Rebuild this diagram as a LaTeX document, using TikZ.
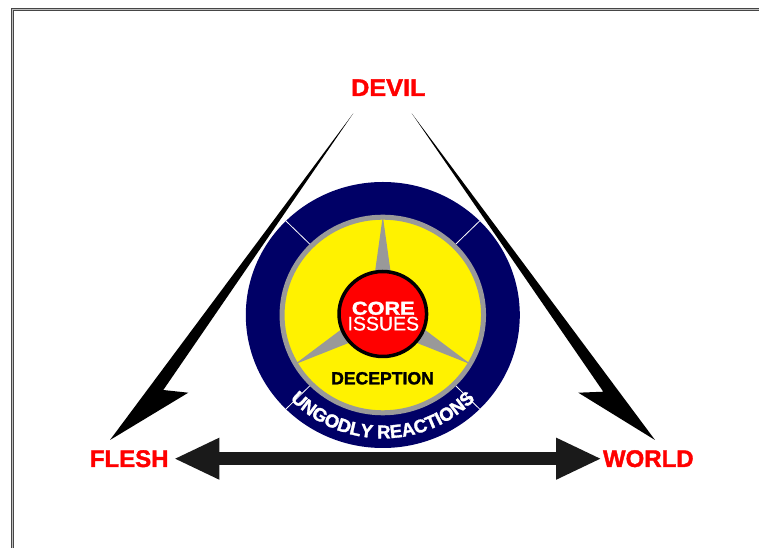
\documentclass[tikz,border=0pt]{standalone}
\usepackage{fontspec}
\setmainfont{Liberation Sans}
\newfontfamily\heavyfont[FakeBold=1.6]{Liberation Sans Bold}
\newfontfamily\midfont[FakeBold=0.8]{Liberation Sans}
\usetikzlibrary{arrows.meta,decorations.text}
\definecolor{navy}{RGB}{0,0,102}
\definecolor{ringgray}{RGB}{153,153,153}
\definecolor{darkarrow}{RGB}{26,26,26}

\begin{document}
\begin{tikzpicture}[x=1pt,y=1pt,
  corner/.style={text=red,font=\heavyfont\fontsize{24}{24}\selectfont,inner sep=2pt},
  bolt/.style={fill=black},
  spike/.style={fill=ringgray},
  divider/.style={white,line width=0.8pt},
  bigtip/.tip={Triangle[length=45.7pt,width=38.4pt]}]
\useasboundingbox (0,0) rectangle (759,548);
\draw[gray!55!black,line width=3pt] (12.5,0) -- (12.5,538.5) -- (759,538.5);
\draw[gray!50,line width=1pt] (12.5,0) -- (12.5,538.5) -- (759,538.5);

\node[corner,xscale=1.05] (devil) at (388.3,460.3) {DEVIL};
\node[corner] (flesh) at (129.2,89.3) {FLESH};
\node[corner] (world) at (648.3,89.3) {WORLD};

\coordinate (ltail) at (353.3,434.7);
\coordinate (rtail) at (411.7,434.7);
\coordinate (ltip) at (110,108);
\coordinate (rtip) at (655,108);
\fill[bolt] (ltail) -- (163.3,158) -- (188.3,155.3) -- (ltip) -- cycle;
\fill[bolt] (rtail) -- (603.3,156.3) -- (578.3,155.3) -- (rtip) -- cycle;

\draw[darkarrow,line width=13.3pt,bigtip-bigtip,shorten <=3pt,shorten >=-1pt] (flesh.east) -- (world.west);

\begin{scope}[shift={(382.8,233)},xscale=1.03]
\fill[navy] (0,0) circle[radius=133];
\foreach \a in {45,135,225,315}
  \draw[divider] (\a:100) -- (\a:133);
\draw[ringgray,line width=5pt,fill=yellow] (0,0) circle[radius=97.8];
\foreach \a in {90,210,330}
  \fill[spike] (\a:99) -- (\a+11.3:40.8) -- (\a-11.3:40.8) -- cycle;
\draw[black,line width=3.5pt,fill=red] (0,1) circle[radius=42.5];
\end{scope}

\node[text=white,font=\heavyfont\fontsize{18.6}{18.6}\selectfont,xscale=1.17] (core) at (383.3,239.7) {CORE};
\node[text=white,font=\midfont\fontsize{19.5}{19.5}\selectfont] (issues) at (383.3,224.3) {ISSUES};
\node[font=\heavyfont\fontsize{17.6}{17.6}\selectfont] (decep) at (382.5,169.7) {DECEPTION};

\path[decorate,decoration={text along path,text align=center,
  text={|\color{white}\heavyfont\fontsize{18.5}{18.5}\selectfont|UNGODLY REACTIONS}}]
  (382.8,233) ++(200:126.7 and 123.3) arc[start angle=200,end angle=340,x radius=126.7,y radius=123.3];
\end{tikzpicture}
\end{document}
